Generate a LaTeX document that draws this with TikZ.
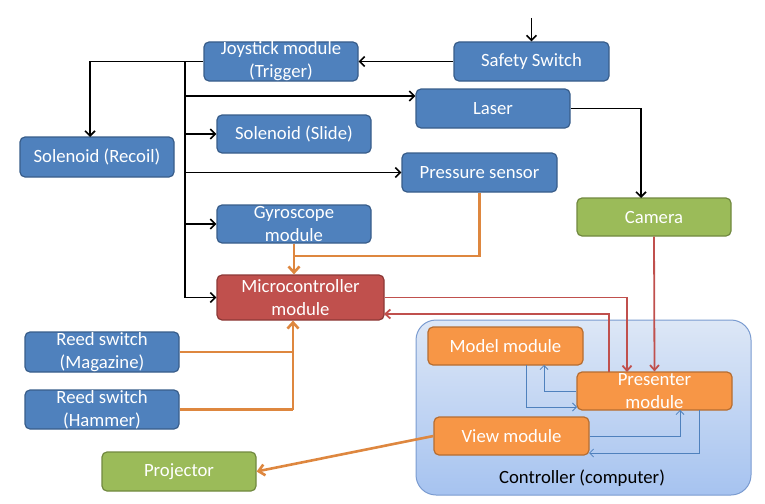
\documentclass[tikz,border=0pt]{standalone}
\usepackage{fontspec}
\setmainfont{Carlito}
\usetikzlibrary{arrows.meta}
\definecolor{bfill}{HTML}{4F81BD}
\definecolor{bdraw}{HTML}{385D8A}
\definecolor{rfill}{HTML}{C0504D}
\definecolor{rdraw}{HTML}{8C3836}
\definecolor{gfill}{HTML}{9BBB59}
\definecolor{gdraw}{HTML}{71893F}
\definecolor{ofill}{HTML}{F79646}
\definecolor{odraw}{HTML}{B66D31}
\definecolor{ctop}{HTML}{DDE7F6}
\definecolor{cbot}{HTML}{A6C3F0}
\definecolor{cdraw}{HTML}{7A9BD0}
\begin{document}
\begin{tikzpicture}[x=1pt,y=-1pt,
  box/.style={rounded corners=5pt, minimum width=154, minimum height=39, inner sep=0pt,
    text=white, align=center, line width=1.2pt, font=\fontsize{18.7}{22.8}\selectfont},
  bluebox/.style={box, fill=bfill, draw=bdraw},
  redbox/.style={box, fill=rfill, draw=rdraw},
  greenbox/.style={box, fill=gfill, draw=gdraw},
  orangebox/.style={box, fill=ofill, draw=odraw},
  blk/.style={line width=1.6pt, black, -{Straight Barb[length=5pt,width=10pt]}},
  blkline/.style={line width=1.6pt, black},
  org/.style={line width=2.6pt, ofill!90!black, -{Straight Barb[length=6pt,width=11pt]}},
  orgline/.style={line width=2.6pt, ofill!90!black},
  red/.style={line width=1.8pt, rfill, -{Straight Barb[length=5pt,width=9pt]}},
  thinb/.style={line width=0.8pt, bfill, -{Straight Barb[length=4pt,width=8pt]}}
]
\useasboundingbox (0,0) rectangle (765,503);

% container
\node[rounded corners=20pt, minimum width=335, minimum height=175, inner sep=0pt,
  top color=ctop, bottom color=cbot, draw=cdraw, line width=1pt] (ctrl) at (583.5,407.5) {};
\node[font=\fontsize{18.7}{22.8}\selectfont, inner sep=0pt] (ctrllabel) at (582,478) {Controller (computer)};

% nodes
\node[bluebox] (joy) at (281,61.5) {Joystick module\\(Trigger)};
\node[bluebox, minimum width=155] (safety) at (531.5,61.5) {Safety Switch};
\node[bluebox] (laser) at (493,108.5) {Laser};
\node[bluebox, minimum height=38] (slide) at (294,134) {Solenoid (Slide)};
\node[bluebox, minimum height=40] (recoil) at (97,157) {Solenoid (Recoil)};
\node[bluebox, minimum width=155] (pressure) at (479.5,172.5) {Pressure sensor};
\node[greenbox, minimum height=38] (camera) at (654,217) {Camera};
\node[bluebox, minimum height=38] (gyro) at (294,224) {Gyroscope\\module};
\node[redbox, minimum width=167, minimum height=45] (micro) at (300.5,297.5) {Microcontroller\\module};
\node[bluebox, minimum height=40] (magazine) at (102,352) {Reed switch\\(Magazine)};
\node[bluebox] (hammer) at (102,409.5) {Reed switch\\(Hammer)};
\node[greenbox] (projector) at (179,471.5) {Projector};
\node[orangebox, minimum width=155, minimum height=38] (model) at (505.5,346) {Model module};
\node[orangebox, minimum width=155, minimum height=38] (presenter) at (654.5,391) {Presenter\\module};
\node[orangebox, minimum width=155, minimum height=38] (view) at (511.5,436) {View module};

% black connectors
\coordinate (in) at (531.5,18);
\draw[blk] (in) -- (safety.north);
\draw[blk] (safety.west) -- (joy.east);
\coordinate (rc) at (90,137);
\draw[blk] (joy.west) -| (rc);
\coordinate (t0) at (185,61.5);
\coordinate (b1) at (185,96);
\coordinate (b2) at (185,134);
\coordinate (b3) at (185,172.5);
\coordinate (b4) at (185,224);
\coordinate (b5) at (185,297.5);
\draw[blkline] (t0) -- (b5);
\draw[blk] (b1) -- (b1 -| laser.west);
\draw[blk] (b2) -- (slide.west);
\draw[blk] (b3) -- (pressure.west);
\draw[blk] (b4) -- (gyro.west);
\draw[blk] (b5) -- (micro.west);
\coordinate (cam) at (641,198);
\draw[blk] (laser.east) -| (cam);

% orange connectors
\draw[org] (gyro.south) -- (gyro.south |- micro.north);
\coordinate (pj) at (294,256);
\draw[orgline] (pressure.south) |- (pj);
\coordinate (mj) at (293,409.5);
\draw[orgline] (hammer.east) -- (mj);
\draw[orgline] (magazine.east) -- (magazine.east -| mj);
\draw[org] (mj) -- (mj |- micro.south);
\draw[org] (view.west) -- (projector.east);

% red connectors
\draw[red] (camera.south) -- (presenter.north);
\coordinate (p1) at (627,372);
\draw[red] (micro.east) -| (p1);
\coordinate (p2) at (609,372);
\coordinate (m2) at (384,314);
\draw[red] (p2) |- (m2);

% thin blue connectors
\coordinate (mb1) at (544,365);
\draw[thinb] (presenter.west) -| (mb1);
\coordinate (mb2) at (526,365);
\coordinate (pw2) at (577,407);
\draw[thinb] (mb2) |- (pw2);
\coordinate (ps1) at (680,410);
\draw[thinb] (view.east) -| (ps1);
\coordinate (ps2) at (699,410);
\coordinate (ve2) at (589,453);
\draw[thinb] (ps2) |- (ve2);
\end{tikzpicture}
\end{document}
